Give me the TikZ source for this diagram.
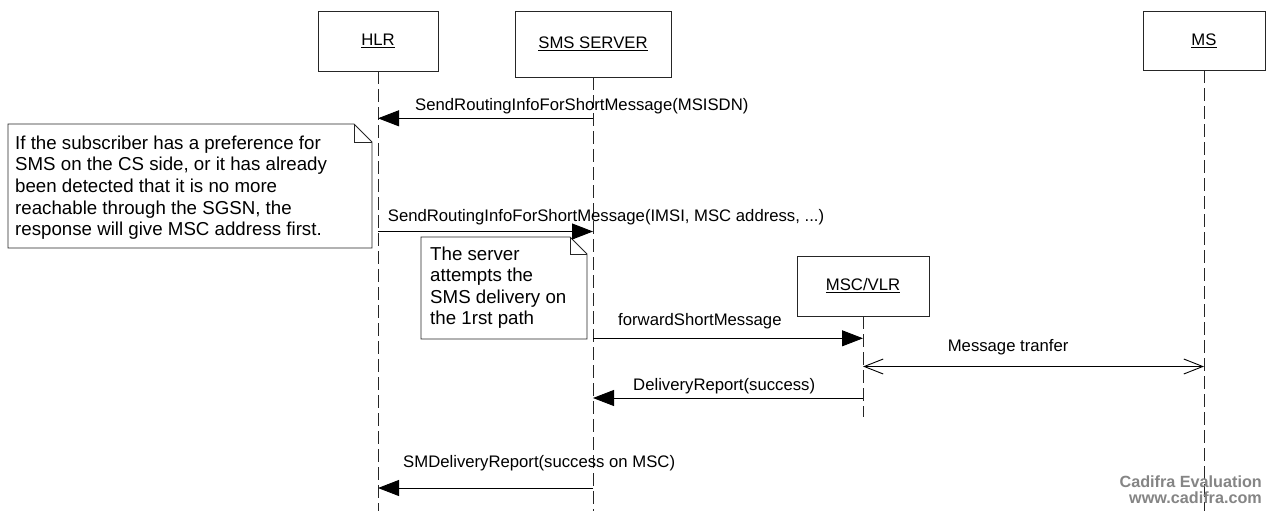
\documentclass[tikz,border=0pt]{standalone}
\usepackage{fontspec}
\setmainfont{Liberation Sans}
\usetikzlibrary{arrows.meta}
\begin{document}
\begin{tikzpicture}[x=1pt,y=-1pt,
  lbl/.style={font=\fontsize{16.7}{19.2}\selectfont, inner sep=0pt, anchor=base west},
  head/.style={draw=black!85, line width=0.9pt, fill=white, inner sep=0pt,
               font=\fontsize{16.7}{19.2}\selectfont},
  life/.style={draw=black!85, line width=0.9pt, dash pattern=on 13pt off 5pt},
  msg/.style={draw=black, line width=0.9pt, -{Triangle[length=21pt,width=16pt]}},
  twoway/.style={draw=black, line width=0.9pt,
     {Straight Barb[length=19pt,width=15pt]}-{Straight Barb[length=19pt,width=15pt]}},
  notebox/.style={draw=black!85, line width=0.9pt, fill=white, line join=miter},
  notetxt/.style={font=\fontsize{18.7}{21.6}\selectfont, inner sep=0pt, anchor=base west},
  wm/.style={font=\fontsize{16.2}{19}\bfseries\selectfont, text=black!48, inner sep=0pt, anchor=base east}]

\useasboundingbox (0,0) rectangle (1268,511);
\fill[white] (0,0) rectangle (1268,511);

% lifeline heads
\node[head, minimum width=120pt, minimum height=60pt] (hlr) at (378,41) {\underline{HLR}};
\node[head, minimum width=156pt, minimum height=66pt] (sms) at (593,44) {\underline{SMS SERVER}};
\node[head, minimum width=122pt, minimum height=59pt] (ms) at (1204,40.5) {\underline{MS}};
\node[head, minimum width=132pt, minimum height=60pt] (msc) at (863,286) {\underline{MSC/VLR}};

% rows
\coordinate (bottom) at (0,511);
\coordinate (mscend) at (0,417);
\coordinate (r1) at (0,118.3);
\coordinate (r2) at (0,231.5);
\coordinate (r3) at (0,338.3);
\coordinate (r4) at (0,398);
\coordinate (r5) at (0,366.5);
\coordinate (r6) at (0,488);

% lifelines
\draw[life] (hlr.south) -- (hlr.south |- bottom);
\draw[life] (sms.south) -- (sms.south |- bottom);
\draw[life] (ms.south) -- (ms.south |- bottom);
\draw[life] (msc.south) -- (msc.south |- mscend);

% note 1
\draw[notebox] (8,124) -- (354,124) -- (372,142) -- (372,248) -- (8,248) -- cycle;
\draw[notebox, fill=none] (354,124) -- (354,142) -- (372,142);
\node[notetxt] (n1) at (15,149.3) {\parbox[t]{360pt}{If the subscriber has a preference for\\
SMS on the CS side, or it has already\\
been detected that it is no more\\
reachable through the SGSN, the\\
response will give MSC address first.}};

% note 2
\draw[notebox] (421,237) -- (570,237) -- (587,254) -- (587,339) -- (421,339) -- cycle;
\draw[notebox, fill=none] (570,237) -- (570,254) -- (587,254);
\node[notetxt] (n2) at (430,260) {\parbox[t]{160pt}{The server\\
attempts the\\
SMS delivery on\\
the 1rst path}};

% messages
\draw[msg] (sms |- r1) -- (hlr |- r1);
\node[lbl] (l1) at (415,110.7) {SendRoutingInfoForShortMessage(MSISDN)};

\draw[msg] (hlr |- r2) -- (sms |- r2);
\node[lbl] (l2) at (387.7,221.5) {SendRoutingInfoForShortMessage(IMSI, MSC address, ...)};

\draw[msg] (sms |- r3) -- (msc |- r3);
\node[lbl] (l3) at (618,325) {forwardShortMessage};

\draw[twoway] (msc |- r5) -- (ms |- r5);
\node[lbl] (l5) at (947.6,351.6) {Message tranfer};

\draw[msg] (msc |- r4) -- (sms |- r4);
\node[lbl] (l4) at (633,390.5) {DeliveryReport(success)};

\draw[msg] (sms |- r6) -- (hlr |- r6);
\node[lbl] (l6) at (403,467.7) {SMDeliveryReport(success on MSC)};

% watermark
\node[wm] (w1) at (1262,487.3) {Cadifra Evaluation};
\node[wm] (w2) at (1262,503) {www.cadifra.com};
\end{tikzpicture}
\end{document}
